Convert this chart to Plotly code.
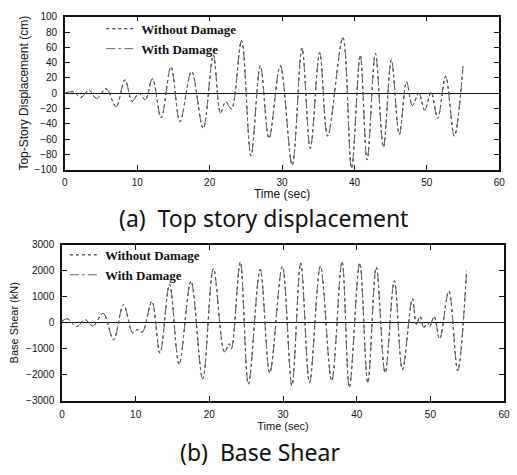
import plotly.graph_objects as go

# ---- data (extrema of each oscillation) ----
disp_time = [0, 1.1, 2.2, 3.3, 4.4, 5.7, 7.06, 8.3, 9.3, 10.2, 11.1, 12.1, 13.3, 14.65, 15.9,
             17.5, 19.1, 20.5, 21.5, 22.2, 23.0, 24.4, 25.7, 27.0, 28.2, 29.75, 31.4, 32.75,
             33.9, 35.2, 36.3, 38.4, 39.6, 40.8, 41.75, 42.9, 44.0, 45.1, 46.2, 47.2, 48.0,
             48.9, 49.7, 50.6, 51.5, 52.6, 53.8, 55.0]
disp_without = [0, 2, -5.5, 4, -7, 6, -17.5, 17.5, -10.7, 0, -8.5, 19, -32, 34.6, -37,
                28.6, -46, 50, -25.6, -11, -20.5, 69, -81.6, 36, -59, 36, -94, 59,
                -72, 53, -56, 72.6, -98, 50, -87, 52, -70.5, 43.6, -54, 15, -16,
                0, -22, 1, -33, 22, -56, 35]
disp_with = [0, 2, -5.5, 4, -7, 6, -17.5, 17.5, -10.7, 0, -8.5, 19, -32, 34.6, -37,
             28.6, -46, 50, -25.6, -11, -20.5, 69, -81.6, 36, -59, 36, -94, 59,
             -72, 53, -56, 72.6, -98, 50, -87, 52, -70.5, 43.6, -54, 15, -16,
             0, -22, 1, -33, 22, -56, 35]

shear_time = [0, 0.7, 2.0, 3.1, 4.2, 5.6, 7.0, 8.35, 9.6, 10.2, 10.9, 12.2, 13.3, 14.6,
              15.9, 17.5, 19.1, 20.55, 22.06, 22.7, 23.0, 24.2, 25.3, 26.9, 28.2, 29.9,
              31.2, 32.4, 33.6, 35.07, 36.6, 38.0, 39.0, 40.4, 41.5, 42.65, 43.85, 45.1,
              46.2, 47.55, 48.1, 48.6, 49.1, 49.6, 49.9, 50.5, 51.25, 52.5, 53.7, 54.9]
shear_without = [50, 157, -145, 120, -120, 361, -650, 700, -385, -265, -360, 820, -1170, 1480,
                 -1590, 1600, -2160, 2080, -1118, -807, -994, 2335, -2360, 2050, -1925, 2170,
                 -2420, 2300, -2300, 2170, -2236, 2360, -2484, 2300, -2300, 2140, -1925, 1615,
                 -1800, 930, -60, 250, -190, 25, -150, 250, -620, 1220, -1840, 2000]
shear_with = [50, 157, -145, 120, -120, 361, -650, 700, -385, -265, -360, 820, -1170, 1480,
              -1590, 1600, -2160, 2080, -1118, -807, -994, 2335, -2360, 2050, -1925, 2170,
              -2420, 2300, -2300, 2170, -2236, 2360, -2484, 2300, -2300, 2140, -1925, 1615,
              -1800, 930, -60, 250, -190, 25, -150, 250, -620, 1220, -1840, 2000]

disp_ticks = [-100, -80, -60, -40, -20, 0, 20, 40, 60, 80, 100]
shear_ticks = [-3000, -2000, -1000, 0, 1000, 2000, 3000]
time_ticks = [0, 10, 20, 30, 40, 50, 60]

series_names = ["Without Damage", "With Damage"]
caption_a = "(a)  Top story displacement"
caption_b = "(b)  Base Shear"

# ---- figure ----
W, H = 517, 475
fig = go.Figure()

style_without = dict(color="#111111", width=1, dash="dot")
style_with = dict(color="#666666", width=1, dash="dashdot")

fig.add_trace(go.Scatter(x=disp_time, y=disp_without, mode="lines", name=series_names[0],
                         line=dict(shape="spline", smoothing=1.0, **style_without),
                         xaxis="x", yaxis="y", legend="legend"))
fig.add_trace(go.Scatter(x=disp_time, y=disp_with, mode="lines", name=series_names[1],
                         line=dict(shape="spline", smoothing=1.0, **style_with),
                         xaxis="x", yaxis="y", legend="legend"))
fig.add_trace(go.Scatter(x=shear_time, y=shear_without, mode="lines", name=series_names[0],
                         line=dict(shape="spline", smoothing=1.0, **style_without),
                         xaxis="x2", yaxis="y2", legend="legend2"))
fig.add_trace(go.Scatter(x=shear_time, y=shear_with, mode="lines", name=series_names[1],
                         line=dict(shape="spline", smoothing=1.0, **style_with),
                         xaxis="x2", yaxis="y2", legend="legend2"))

def px_x(p):
    return p / W

def px_y(p):
    return 1 - p / H

tickfont = dict(family="Liberation Sans, Arial, sans-serif", size=10, color="#111111")
titlefont = dict(family="Liberation Sans, Arial, sans-serif", size=12, color="#111111")
titlefont2 = dict(family="Liberation Sans, Arial, sans-serif", size=11, color="#111111")

axis_common = dict(showline=True, linecolor="#111111", linewidth=1.5, mirror="ticks",
                   ticks="inside", ticklen=5, tickcolor="#111111", showgrid=False,
                   tickfont=tickfont)

legfont = dict(family="Liberation Serif, Times New Roman, serif", size=13, color="#111111")

fig.update_layout(
    width=W, height=H,
    margin=dict(l=0, r=0, t=0, b=0),
    paper_bgcolor="white", plot_bgcolor="white",
    showlegend=True,
    xaxis=dict(domain=[px_x(63), px_x(505)], range=[0, 60], tickvals=time_ticks,
               anchor="y", ticklabelstandoff=2,
               title=dict(text="Time (sec)", font=titlefont, standoff=0),
               zeroline=False, **axis_common),
    yaxis=dict(domain=[px_y(168), px_y(11)], range=[-100, 100], tickvals=disp_ticks,
               anchor="x", ticklabelstandoff=4,
               title=dict(text="Top-Story Displacement (cm)", font=titlefont, standoff=3),
               zeroline=True, zerolinecolor="#111111", zerolinewidth=1.2, **axis_common),
    xaxis2=dict(domain=[px_x(60), px_x(510)], range=[0, 60], tickvals=time_ticks,
                anchor="y2", ticklabelstandoff=3,
                title=dict(text="Time (sec)", font=titlefont2, standoff=0),
                zeroline=False, **axis_common),
    yaxis2=dict(domain=[px_y(405), px_y(245)], range=[-3000, 3000], tickvals=shear_ticks,
                anchor="x2", ticklabelstandoff=4,
                title=dict(text="Base Shear (kN)", font=titlefont2, standoff=5),
                zeroline=True, zerolinecolor="#111111", zerolinewidth=1.2, **axis_common),
    legend=dict(x=px_x(100), y=px_y(8), xanchor="left", yanchor="top",
                bgcolor="rgba(0,0,0,0)", tracegroupgap=0, itemwidth=30, font=legfont),
    legend2=dict(x=px_x(63), y=px_y(240), xanchor="left", yanchor="top",
                 bgcolor="rgba(0,0,0,0)", tracegroupgap=0, itemwidth=30, font=legfont),
)

capfont = dict(family="Noto Sans, Liberation Sans, sans-serif", size=23, color="#111111")
fig.add_annotation(text=caption_a, x=px_x(265), y=px_y(218), xref="paper", yref="paper",
                   showarrow=False, font=capfont, xanchor="center", yanchor="middle")
fig.add_annotation(text=caption_b, x=px_x(262), y=px_y(458), xref="paper", yref="paper",
                   showarrow=False, font=capfont, xanchor="center", yanchor="middle")

# bold legend labels
for tr in fig.data:
    tr.name = "<b>" + tr.name + "</b>"

fig.write_html("out.html", config={"displayModeBar": False},
               post_script="document.body.style.margin='0';")
